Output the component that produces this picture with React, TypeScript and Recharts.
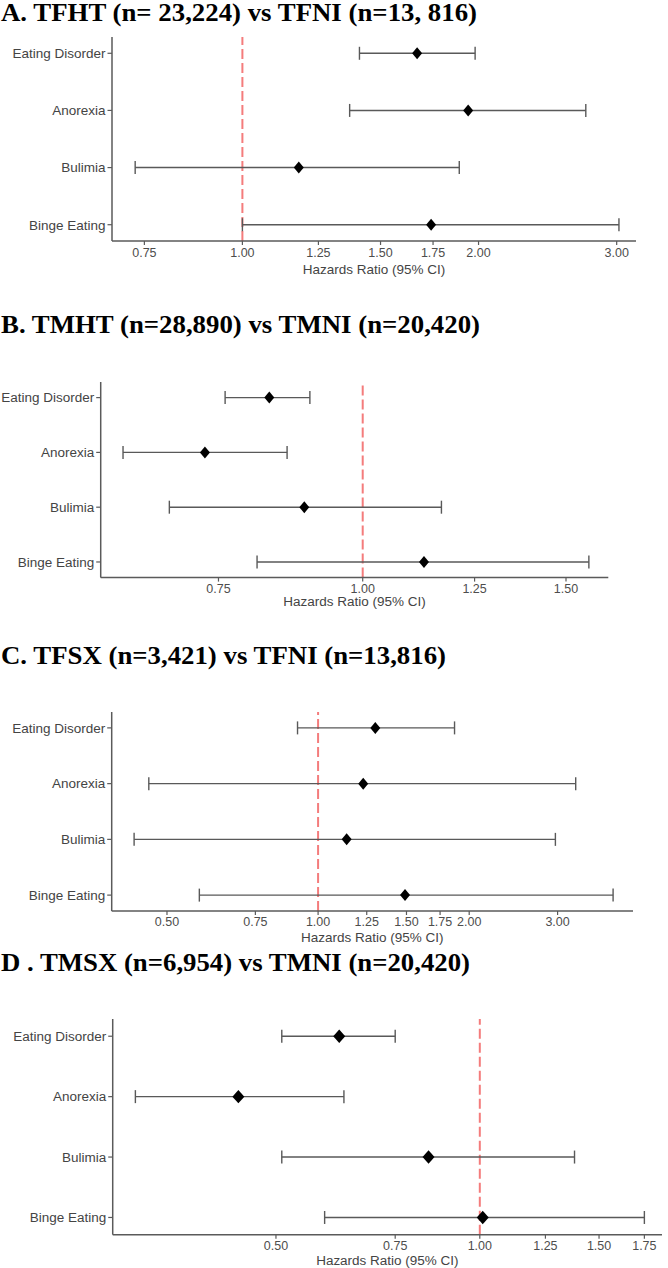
import React from 'react';
import { ScatterChart, Scatter, XAxis, YAxis, ErrorBar, ReferenceLine } from 'recharts';

const categories = ['Eating Disorder', 'Anorexia', 'Bulimia', 'Binge Eating'];

// Panel A: TFHT vs TFNI
const hrA = [1.67, 1.94, 1.18, 1.74];
const loA = [1.41, 1.37, 0.73, 1.0];
const hiA = [1.98, 2.74, 1.89, 3.02];
const ticksA = [0.75, 1.0, 1.25, 1.5, 1.75, 2.0, 3.0];

// Panel B: TMHT vs TMNI
const hrB = [0.83, 0.73, 0.89, 1.13];
const loB = [0.76, 0.62, 0.68, 0.81];
const hiB = [0.9, 0.86, 1.17, 1.57];
const ticksB = [0.75, 1.0, 1.25, 1.5];

// Panel C: TFSX vs TFNI
const hrC = [1.3, 1.23, 1.14, 1.49];
const loC = [0.91, 0.46, 0.43, 0.58];
const hiC = [1.87, 3.26, 2.97, 3.87];
const ticksC = [0.5, 0.75, 1.0, 1.25, 1.5, 1.75, 2.0, 3.0];

// Panel D: TMSX vs TMNI
const hrD = [0.62, 0.44, 0.84, 1.01];
const loD = [0.51, 0.31, 0.51, 0.59];
const hiD = [0.75, 0.63, 1.38, 1.75];
const ticksD = [0.5, 0.75, 1.0, 1.25, 1.5, 1.75];

const titles = [
  'A. TFHT (n= 23,224) vs TFNI (n=13, 816)',
  'B. TMHT (n=28,890) vs TMNI (n=20,420)',
  'C. TFSX (n=3,421) vs TFNI (n=13,816)',
  'D . TMSX (n=6,954) vs TMNI (n=20,420)',
];

const axisTitle = 'Hazards Ratio (95% CI)';

const SANS = "'Liberation Sans', Arial, sans-serif";
const SERIF = "'Liberation Serif', 'Times New Roman', serif";

function buildRows(hr: number[], lo: number[], hi: number[]) {
  return categories.map((name, i) => ({
    name,
    row: i + 1,
    hr: hr[i],
    err: [hr[i] - lo[i], hi[i] - hr[i]],
  }));
}

const makeDiamond = (hw: number, hh: number) => (props: any) => {
  const { cx, cy } = props;
  if (cx == null || cy == null) return <g />;
  return (
    <path
      d={`M${cx},${cy - hh}L${cx + hw},${cy}L${cx},${cy + hh}L${cx - hw},${cy}Z`}
      fill="#000"
    />
  );
};

const makeYTick = (fs: number) => (props: any) => {
  const { x, y, payload } = props;
  return (
    <text
      x={x}
      y={y}
      dy="0.355em"
      textAnchor="end"
      fill="#444"
      fontSize={fs}
      fontFamily={SANS}
    >
      {categories[payload.value - 1] ?? ''}
    </text>
  );
};

type PanelCfg = {
  rows: any[];
  ticks: number[];
  domain: [number, number];
  left: number;
  right: number;
  top: number;
  bottom: number;
  xh: number;
  tickMargin: number;
  titleGap: number;
  tickFs: number;
  labFs: number;
  hw: number;
  hh: number;
};

const panels: PanelCfg[] = [
  {
    rows: buildRows(hrA, loA, hiA), ticks: ticksA, domain: [0.682, 3.175],
    left: 112, right: 636, top: 37, bottom: 241, xh: 40, tickMargin: 3.3, titleGap: 28,
    tickFs: 12.5, labFs: 13.5, hw: 5, hh: 6,
  },
  {
    rows: buildRows(hrB, loB, hiB), ticks: ticksB, domain: [0.593, 1.632],
    left: 100.7, right: 608.3, top: 381.7, bottom: 577.3, xh: 36, tickMargin: 2.3, titleGap: 24,
    tickFs: 12.5, labFs: 13.5, hw: 5, hh: 6,
  },
  {
    rows: buildRows(hrC, loC, hiC), ticks: ticksC, domain: [0.388, 4.24],
    left: 111.7, right: 633, top: 711.7, bottom: 910.7, xh: 36, tickMargin: 2, titleGap: 26,
    tickFs: 12.5, labFs: 13.5, hw: 5, hh: 6,
  },
  {
    rows: buildRows(hrD, loD, hiD), ticks: ticksD, domain: [0.287, 1.858],
    left: 112.7, right: 662, top: 1019.3, bottom: 1235, xh: 33, tickMargin: 2.5, titleGap: 25,
    tickFs: 12.5, labFs: 13.5, hw: 6, hh: 6.7,
  },
];

const titleLayout = [
  { x: 1, y: 21, w: 476 },
  { x: 1, y: 333, w: 479 },
  { x: 1, y: 664, w: 445 },
  { x: 1, y: 970.5, w: 469 },
];

const W = 668;
const PAD = 8;

function Panel({ p }: { p: PanelCfg }) {
  const plotH = p.bottom - p.top;
  const height = PAD + plotH + p.xh;
  const Diamond = makeDiamond(p.hw, p.hh);
  const YTick = makeYTick(p.labFs);
  return (
    <div style={{ position: 'absolute', left: 0, top: p.top - PAD }}>
      <ScatterChart
        width={W}
        height={height}
        margin={{ top: PAD, right: W - p.right, left: 0, bottom: 0 }}
      >
        <XAxis
          type="number"
          dataKey="hr"
          scale="log"
          domain={p.domain}
          allowDataOverflow
          ticks={p.ticks}
          interval={0}
          height={p.xh}
          tickSize={4}
          tickMargin={p.tickMargin}
          tickFormatter={(v: number) => v.toFixed(2)}
          tick={{ fill: '#4d4d4d', fontSize: p.tickFs, fontFamily: SANS }}
          axisLine={{ stroke: '#5a5a5a', strokeWidth: 1.5 }}
          tickLine={{ stroke: '#5a5a5a', strokeWidth: 1.2 }}
          label={{
            value: axisTitle,
            position: 'insideTop',
            offset: p.titleGap - 0.35 * p.labFs,
            fill: '#444',
            fontSize: p.labFs,
            fontFamily: SANS,
          }}
        />
        <YAxis
          type="number"
          dataKey="row"
          domain={[0.715, 4.285]}
          allowDataOverflow
          reversed
          ticks={[1, 2, 3, 4]}
          interval={0}
          width={p.left}
          tickSize={4.5}
          tickMargin={2}
          tick={YTick}
          axisLine={{ stroke: '#5a5a5a', strokeWidth: 1.5 }}
          tickLine={{ stroke: '#5a5a5a', strokeWidth: 1.2 }}
        />
        <ReferenceLine x={1} stroke="#f47c7c" strokeWidth={2} strokeDasharray="10 4" />
        <Scatter data={p.rows} shape={Diamond} isAnimationActive={false}>
          <ErrorBar
            dataKey="err"
            direction="x"
            width={6.5}
            stroke="#595959"
            strokeWidth={1.4}
            isAnimationActive={false}
          />
        </Scatter>
      </ScatterChart>
    </div>
  );
}

export default function App() {
  return (
    <div
      style={{
        position: 'absolute',
        left: 0,
        top: 0,
        width: W,
        height: 1268,
        background: '#fff',
        overflow: 'hidden',
      }}
    >
      <svg width={W} height={1268} style={{ position: 'absolute', left: 0, top: 0 }}>
        {titles.map((t, i) => (
          <text
            key={i}
            x={titleLayout[i].x}
            y={titleLayout[i].y}
            textLength={titleLayout[i].w}
            lengthAdjust="spacingAndGlyphs"
            fontFamily={SERIF}
            fontWeight="bold"
            fontSize={25}
            fill="#000"
          >
            {t}
          </text>
        ))}
      </svg>
      {panels.map((p, i) => (
        <Panel key={i} p={p} />
      ))}
    </div>
  );
}
